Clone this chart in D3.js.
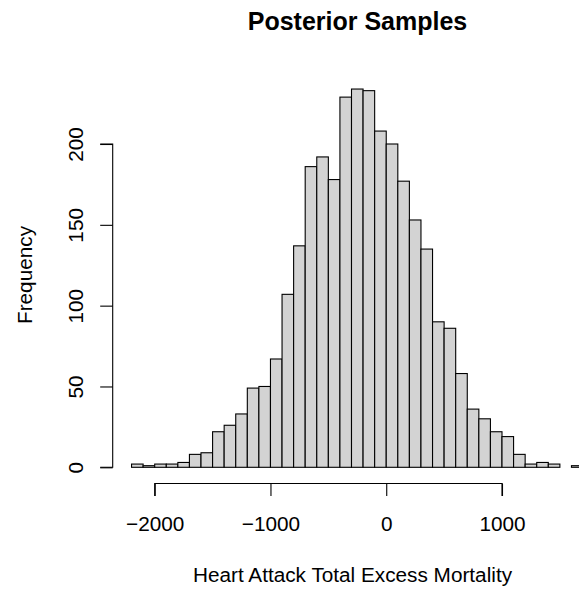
<!DOCTYPE html>
<html>
<head>
<meta charset="utf-8">
<script src="https://cdn.jsdelivr.net/npm/d3@7"></script>
<style>
  body { margin: 0; background: #fff; }
  text { font-family: "Liberation Sans", Arial, sans-serif; fill: #000; }
</style>
</head>
<body>
<script>
// histogram data: left edge of each bin (width 100) and its count
var binStarts = [-2200, -2100, -2000, -1900, -1800, -1700, -1600, -1500, -1400, -1300,
                 -1200, -1100, -1000, -900, -800, -700, -600, -500, -400, -300,
                 -200, -100, 0, 100, 200, 300, 400, 500, 600, 700,
                 800, 900, 1000, 1100, 1200, 1300, 1400, 1500, 1600];
var counts = [2, 1, 2, 2, 3, 8, 9, 22, 26, 33,
              49, 50, 67, 107, 137, 186, 192, 178, 229, 234,
              233, 208, 200, 177, 153, 135, 90, 86, 58, 36,
              30, 22, 19, 8, 2, 3, 2, 0, 1];
var binWidth = 100;
var xTicks = [-2000, -1000, 0, 1000];
var yTicks = [0, 50, 100, 150, 200];

var bins = binStarts.map(function(b, i) { return {x0: b, x1: b + binWidth, n: counts[i]}; });

var width = 579, height = 590;

var svg = d3.select("body").append("svg")
    .attr("width", width)
    .attr("height", height);

// scales (calibrated to the plot region)
var x = d3.scaleLinear().domain([-2000, 1000]).range([154.7, 502]);
var y = d3.scaleLinear().domain([0, 200]).range([467.3, 144]);

// bars
svg.append("g").selectAll("rect")
    .data(bins)
  .enter().append("rect")
    .attr("x", function(d) { return x(d.x0); })
    .attr("y", function(d) { return y(d.n); })
    .attr("width", function(d) { return x(d.x1) - x(d.x0); })
    .attr("height", function(d) { return y(0) - y(d.n); })
    .style("fill", "#d3d3d3")
    .style("stroke", "#000")
    .style("stroke-width", 1.1);

// x axis
var xAxis = d3.axisBottom(x)
    .tickValues(xTicks)
    .tickSize(12.5)
    .tickPadding(10)
    .tickFormat(d3.format("d"));
var gx = svg.append("g")
    .attr("transform", "translate(0,483.5)")
    .call(xAxis);
gx.select(".domain").attr("d", "M" + x(-2000) + ",12.5V0H" + x(1000) + "V12.5");
gx.selectAll("text").style("font-size", "20.75px").attr("y", 47.5).attr("dy", null);

// y axis
var yAxis = d3.axisLeft(y)
    .tickValues(yTicks)
    .tickSize(12.5)
    .tickFormat(d3.format("d"));
var gy = svg.append("g")
    .attr("transform", "translate(112.7,0)")
    .call(yAxis);
gy.select(".domain").attr("d", "M-12.5," + y(0) + "H0V" + y(200) + "H-12.5");
gy.selectAll(".tick text")
    .style("font-size", "20.75px")
    .attr("x", null).attr("dy", null)
    .attr("text-anchor", "middle")
    .attr("transform", "translate(-30,0) rotate(-90)");

svg.selectAll(".domain, .tick line").style("stroke", "#000").style("stroke-width", 1.1);

// titles
svg.append("text")
    .attr("x", 357.5).attr("y", 30)
    .attr("text-anchor", "middle")
    .style("font-size", "25px").style("font-weight", "bold")
    .text("Posterior Samples");

svg.append("text")
    .attr("x", 352.5).attr("y", 582)
    .attr("text-anchor", "middle")
    .style("font-size", "20.75px")
    .text("Heart Attack Total Excess Mortality");

svg.append("text")
    .attr("transform", "translate(32,275) rotate(-90)")
    .attr("text-anchor", "middle")
    .style("font-size", "20.75px")
    .text("Frequency");
</script>
</body>
</html>
